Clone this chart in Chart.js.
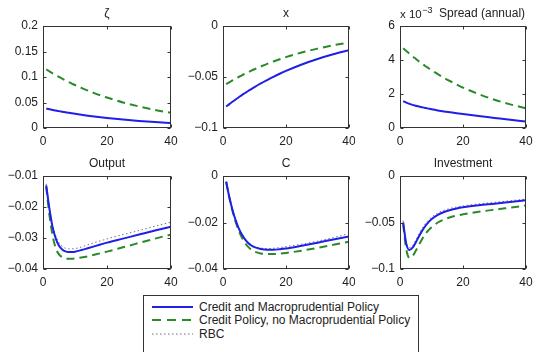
<!DOCTYPE html>
<html>
<head>
<meta charset="utf-8">
<script src="https://cdn.jsdelivr.net/npm/chart.js@4.4.0/dist/chart.umd.min.js"></script>
<style>
  html, body { margin: 0; padding: 0; background: #fff; }
  body { width: 534px; height: 352px; position: relative; overflow: hidden;
         font-family: "Liberation Sans", Arial, sans-serif; }
  .panel { position: absolute; }
  .panel canvas { display: block; }
  #legend { position: absolute; left: 143px; top: 295px; width: 276px; height: 70px;
            border: 1px solid #333; box-sizing: border-box; background: #fff; }
  #legend .row { position: absolute; left: 8px; height: 14px; font-size: 12px; color: #222;
                 line-height: 14px; white-space: nowrap; }
  #legend svg { position: absolute; left: 0; top: 0; }
  #legend span { position: absolute; left: 47px; top: 0; }
</style>
</head>
<body>
<div class="panel" style="left:0;top:0"><canvas id="pZeta" width="178" height="150"></canvas></div>
<div class="panel" style="left:178px;top:0"><canvas id="pX" width="177" height="150"></canvas></div>
<div class="panel" style="left:355px;top:0"><canvas id="pSpread" width="179" height="150"></canvas></div>
<div class="panel" style="left:0;top:150px"><canvas id="pOutput" width="178" height="140"></canvas></div>
<div class="panel" style="left:178px;top:150px"><canvas id="pC" width="177" height="140"></canvas></div>
<div class="panel" style="left:355px;top:150px"><canvas id="pInv" width="179" height="140"></canvas></div>

<div id="legend">
  <div class="row" style="top:4px">
    <svg width="44" height="14"><line x1="0" y1="7" x2="41" y2="7" stroke="#1f1fe6" stroke-width="2"/></svg>
    <span>Credit and Macroprudential Policy</span>
  </div>
  <div class="row" style="top:17px">
    <svg width="44" height="14"><line x1="0" y1="7" x2="41" y2="7" stroke="#2a8a2a" stroke-width="2" stroke-dasharray="9 6"/></svg>
    <span>Credit Policy, no Macroprudential Policy</span>
  </div>
  <div class="row" style="top:31px">
    <svg width="44" height="14"><line x1="0" y1="7" x2="41" y2="7" stroke="#6f6f8f" stroke-width="1" stroke-dasharray="1.5 2.5"/></svg>
    <span>RBC</span>
  </div>
</div>

<script>
// Impulse responses, quarters after the shock
const quarters = [1, 2, 3, 4, 5, 6, 7, 8, 9, 10, 12, 14, 16, 18, 20, 25, 30, 35, 40];

const zetaMacro   = [0.0380, 0.0367, 0.0355, 0.0342, 0.0331, 0.0320, 0.0309, 0.0298, 0.0288, 0.0279, 0.0260, 0.0242, 0.0226, 0.0211, 0.0197, 0.0166, 0.0139, 0.0117, 0.0098];
const zetaNoMacro = [0.1150, 0.1111, 0.1073, 0.1036, 0.1002, 0.0967, 0.0935, 0.0903, 0.0872, 0.0843, 0.0787, 0.0734, 0.0685, 0.0639, 0.0597, 0.0501, 0.0422, 0.0354, 0.0298];

const xMacro   = [-0.0790, -0.0766, -0.0743, -0.0720, -0.0699, -0.0677, -0.0657, -0.0637, -0.0618, -0.0599, -0.0563, -0.0530, -0.0498, -0.0468, -0.0440, -0.0377, -0.0323, -0.0277, -0.0238];
const xNoMacro = [-0.0570, -0.0552, -0.0534, -0.0516, -0.0500, -0.0483, -0.0468, -0.0453, -0.0438, -0.0424, -0.0397, -0.0371, -0.0348, -0.0326, -0.0305, -0.0260, -0.0222, -0.0189, -0.0161];

// annual spread, in units of 10^-3
const spreadMacro   = [1.58, 1.49, 1.42, 1.36, 1.31, 1.26, 1.22, 1.18, 1.14, 1.10, 1.03, 0.97, 0.92, 0.87, 0.82, 0.70, 0.59, 0.48, 0.38];
const spreadNoMacro = [4.69, 4.53, 4.37, 4.21, 4.07, 3.92, 3.79, 3.65, 3.53, 3.40, 3.17, 2.95, 2.75, 2.56, 2.38, 1.99, 1.66, 1.39, 1.16];

const outputMacro   = [-0.0130, -0.0205, -0.0265, -0.0302, -0.0325, -0.0337, -0.0343, -0.0345, -0.0345, -0.0344, -0.0339, -0.0333, -0.0327, -0.0321, -0.0315, -0.0302, -0.0289, -0.0276, -0.0264];
const outputNoMacro = [-0.0135, -0.0225, -0.0292, -0.0333, -0.0353, -0.0362, -0.0366, -0.0367, -0.0367, -0.0366, -0.0363, -0.0359, -0.0354, -0.0349, -0.0344, -0.0330, -0.0316, -0.0302, -0.0289];
const outputRBC     = [-0.0125, -0.0200, -0.0258, -0.0293, -0.0315, -0.0327, -0.0333, -0.0335, -0.0335, -0.0334, -0.0329, -0.0322, -0.0315, -0.0309, -0.0303, -0.0289, -0.0276, -0.0262, -0.0249];

const cMacro   = [-0.0025, -0.0090, -0.0145, -0.0190, -0.0225, -0.0252, -0.0273, -0.0288, -0.0299, -0.0306, -0.0314, -0.0317, -0.0317, -0.0315, -0.0312, -0.0300, -0.0287, -0.0273, -0.0260];
const cNoMacro = [-0.0025, -0.0092, -0.0150, -0.0197, -0.0235, -0.0265, -0.0288, -0.0305, -0.0317, -0.0325, -0.0333, -0.0336, -0.0336, -0.0334, -0.0331, -0.0321, -0.0309, -0.0296, -0.0283];
const cRBC     = [-0.0024, -0.0088, -0.0143, -0.0188, -0.0223, -0.0250, -0.0271, -0.0286, -0.0296, -0.0303, -0.0310, -0.0312, -0.0311, -0.0308, -0.0304, -0.0293, -0.0280, -0.0265, -0.0248];

const invMacro   = [-0.0498, -0.0730, -0.0795, -0.0770, -0.0715, -0.0650, -0.0590, -0.0540, -0.0498, -0.0465, -0.0418, -0.0387, -0.0365, -0.0349, -0.0337, -0.0315, -0.0298, -0.0280, -0.0262];
const invNoMacro = [-0.0520, -0.0790, -0.0880, -0.0860, -0.0805, -0.0740, -0.0680, -0.0625, -0.0585, -0.0552, -0.0500, -0.0467, -0.0443, -0.0425, -0.0412, -0.0385, -0.0362, -0.0340, -0.0318];
const invRBC     = [-0.0480, -0.0710, -0.0770, -0.0745, -0.0690, -0.0625, -0.0565, -0.0515, -0.0475, -0.0443, -0.0398, -0.0368, -0.0348, -0.0333, -0.0322, -0.0300, -0.0283, -0.0266, -0.0248];

// axis ticks
const quarterTicks = [0, 20, 40];
const zetaTicks    = [0, 0.05, 0.1, 0.15, 0.2];
const xTicks       = [-0.1, -0.05, 0];
const spreadTicks  = [0, 2, 4, 6];
const outputTicks  = [-0.04, -0.03, -0.02, -0.01];
const cTicks       = [-0.04, -0.02, 0];
const invTicks     = [-0.1, -0.05, 0];

const FONT = '"Liberation Sans", Arial, sans-serif';
const INK = '#222';
const BLUE = '#1f1fe6', GREEN = '#2a8a2a', GREY = '#6f6f8f';

function fmt(v) {
  const s = String(Number(v.toFixed(6)));
  return s.replace('-', '\u2212');
}

function series(vals, style) {
  const base = { data: quarters.map((q, i) => ({ x: q, y: vals[i] })), pointRadius: 0,
                 fill: false, cubicInterpolationMode: 'monotone', borderCapStyle: 'butt' };
  if (style === 'macro')   return Object.assign(base, { borderColor: BLUE, borderWidth: 2 });
  if (style === 'nomacro') return Object.assign(base, { borderColor: GREEN, borderWidth: 2, borderDash: [8, 5] });
  return Object.assign(base, { borderColor: GREY, borderWidth: 1, borderDash: [1.5, 2.5] });
}

// Box with inward tick marks on all four sides, plus the panel title
const framePlugin = {
  id: 'frame',
  afterDraw(chart, args, opts) {
    const { ctx, chartArea: a, scales } = chart;
    const xs = scales.x, ys = scales.y;
    const L = Math.round(a.left) + 0.5, R = Math.round(a.right) - 0.5;
    const T = Math.round(a.top) + 0.5, B = Math.round(a.bottom) - 0.5;
    ctx.save();
    ctx.strokeStyle = '#333';
    ctx.lineWidth = 1;
    ctx.strokeRect(L, T, R - L, B - T);
    const len = 3;
    ctx.beginPath();
    xs.ticks.forEach(t => {
      const p = Math.round(xs.getPixelForValue(t.value)) + 0.5;
      ctx.moveTo(p, B); ctx.lineTo(p, B - len);
      ctx.moveTo(p, T); ctx.lineTo(p, T + len);
    });
    ys.ticks.forEach(t => {
      const p = Math.round(ys.getPixelForValue(t.value)) + 0.5;
      ctx.moveTo(L, p); ctx.lineTo(L + len, p);
      ctx.moveTo(R, p); ctx.lineTo(R - len, p);
    });
    ctx.stroke();

    ctx.fillStyle = INK;
    ctx.textBaseline = 'middle';
    const ty = a.top - 12;
    if (opts.exponent) {
      ctx.textAlign = 'left';
      ctx.font = '11.5px ' + FONT;
      ctx.fillText('x 10', a.left + 0, ty + 1);
      const w = ctx.measureText('x 10').width;
      ctx.font = '9px ' + FONT;
      ctx.fillText('\u22123', a.left + w + 0.5, ty - 3);
      ctx.font = '12px ' + FONT;
      ctx.fillText(opts.title, a.left + 39, ty);
    } else {
      ctx.textAlign = 'center';
      ctx.font = '12px ' + FONT;
      ctx.fillText(opts.title, (a.left + a.right) / 2, ty);
    }
    ctx.restore();
  }
};

function panel(id, opts) {
  new Chart(document.getElementById(id), {
    type: 'line',
    data: { datasets: opts.datasets },
    plugins: [framePlugin],
    options: {
      responsive: false,
      animation: false,
      events: [],
      layout: { padding: { top: 26, right: opts.padRight, left: 0, bottom: 0 } },
      plugins: {
        legend: { display: false },
        tooltip: { enabled: false },
        frame: { title: opts.title, exponent: !!opts.exponent }
      },
      scales: {
        x: {
          type: 'linear', min: 0, max: 40,
          afterBuildTicks: s => { s.ticks = quarterTicks.map(v => ({ value: v })); },
          ticks: { color: INK, font: { size: 12, family: FONT }, padding: 6, maxRotation: 0, autoSkip: false },
          grid: { drawOnChartArea: false, drawTicks: false },
          border: { display: false },
          afterFit: s => { s.height = opts.xAxisH; s.paddingLeft = 0; s.paddingRight = 0; }
        },
        y: {
          type: 'linear', min: opts.yTicks[0], max: opts.yTicks[opts.yTicks.length - 1],
          afterBuildTicks: s => { s.ticks = opts.yTicks.map(v => ({ value: v })); },
          ticks: { color: INK, font: { size: 12, family: FONT }, padding: 5, autoSkip: false, callback: v => fmt(v) },
          grid: { drawOnChartArea: false, drawTicks: false },
          border: { display: false },
          afterFit: s => { s.width = opts.yAxisW; s.paddingTop = 0; s.paddingBottom = 0; }
        }
      }
    }
  });
}

panel('pZeta', { title: '\u03b6', yTicks: zetaTicks, yAxisW: 43, padRight: 7, xAxisH: 22,
  datasets: [series(zetaMacro, 'macro'), series(zetaNoMacro, 'nomacro')] });
panel('pX', { title: 'x', yTicks: xTicks, yAxisW: 45, padRight: 6, xAxisH: 22,
  datasets: [series(xMacro, 'macro'), series(xNoMacro, 'nomacro')] });
panel('pSpread', { title: 'Spread (annual)', exponent: true, yTicks: spreadTicks, yAxisW: 45, padRight: 8, xAxisH: 22,
  datasets: [series(spreadMacro, 'macro'), series(spreadNoMacro, 'nomacro')] });
panel('pOutput', { title: 'Output', yTicks: outputTicks, yAxisW: 43, padRight: 7, xAxisH: 21,
  datasets: [series(outputMacro, 'macro'), series(outputNoMacro, 'nomacro'), series(outputRBC, 'rbc')] });
panel('pC', { title: 'C', yTicks: cTicks, yAxisW: 45, padRight: 6, xAxisH: 21,
  datasets: [series(cMacro, 'macro'), series(cNoMacro, 'nomacro'), series(cRBC, 'rbc')] });
panel('pInv', { title: 'Investment', yTicks: invTicks, yAxisW: 45, padRight: 8, xAxisH: 21,
  datasets: [series(invMacro, 'macro'), series(invNoMacro, 'nomacro'), series(invRBC, 'rbc')] });
</script>
</body>
</html>
